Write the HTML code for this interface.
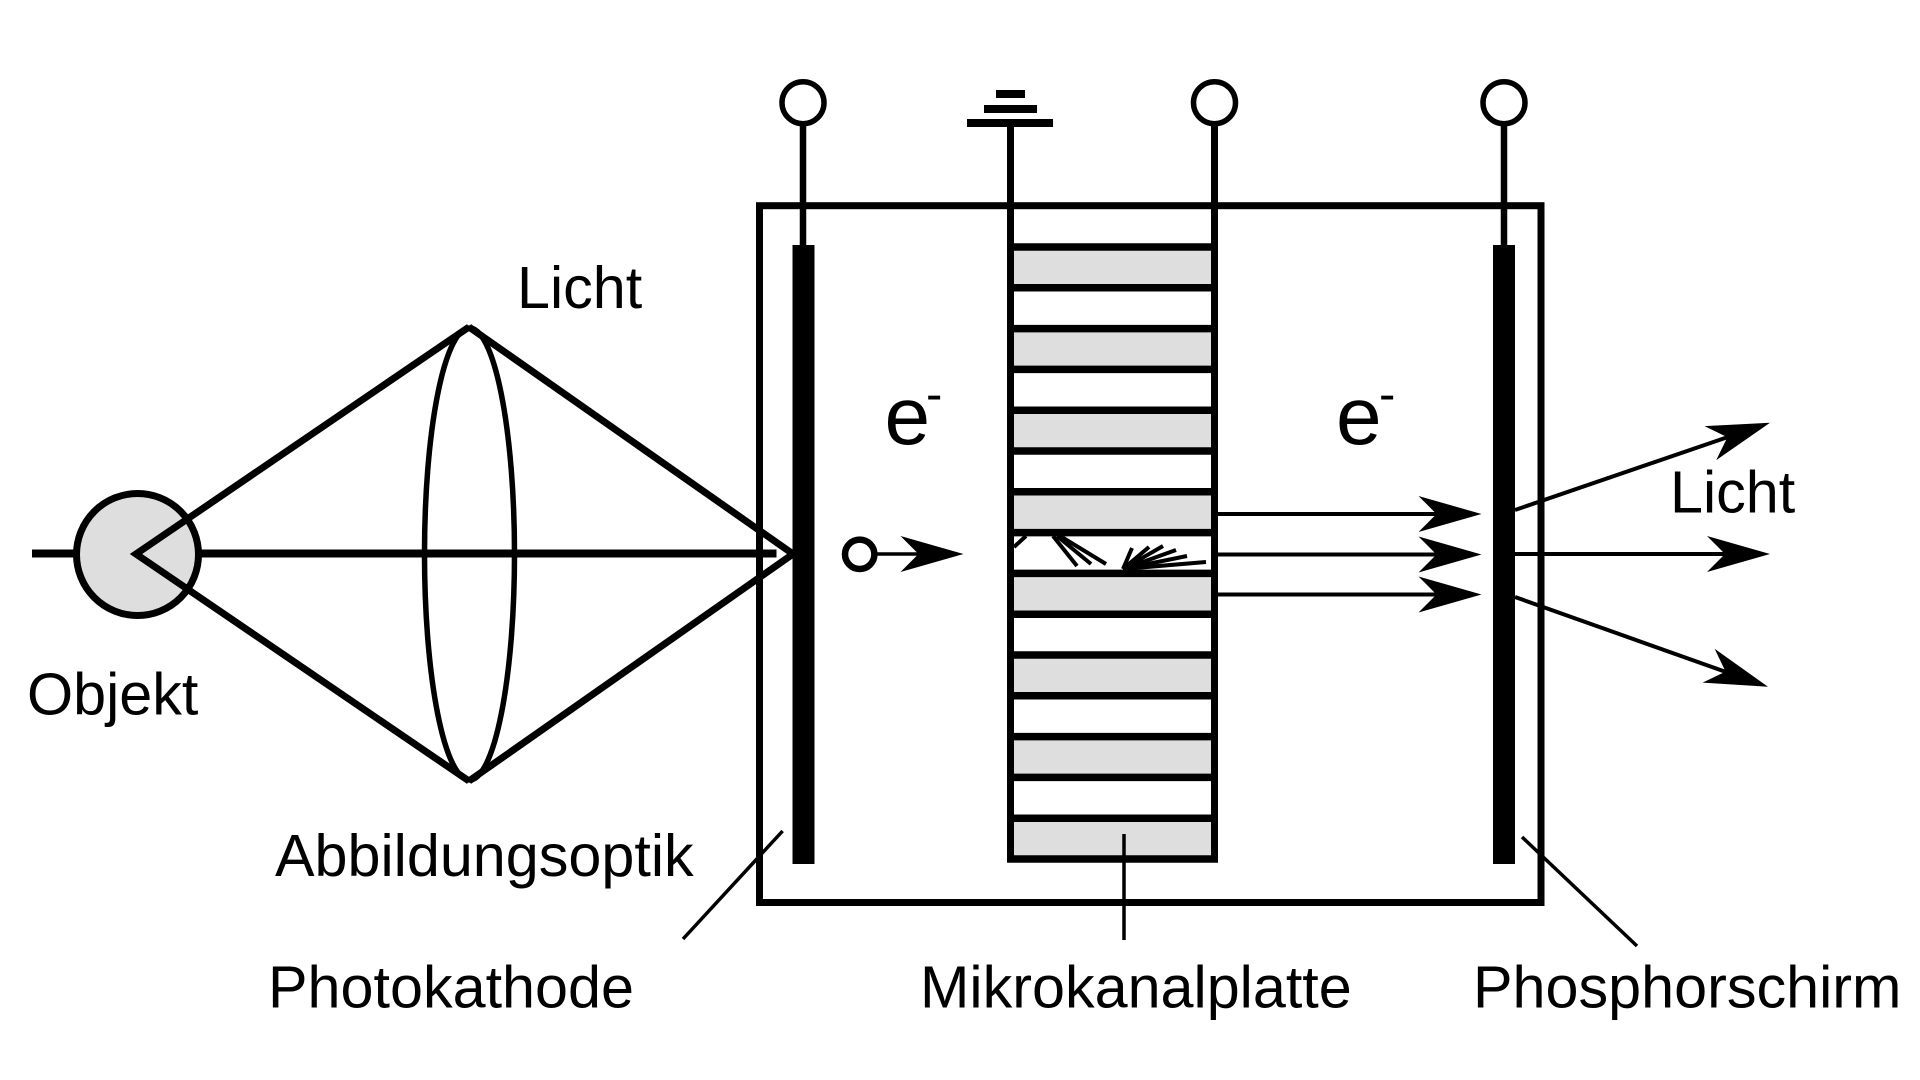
<!DOCTYPE html>
<html>
<head>
<meta charset="utf-8">
<style>
  html, body { margin: 0; padding: 0; background: #fff; }
  svg { display: block; }
  text { font-family: "Liberation Sans", Arial, sans-serif; fill: #000; }
</style>
</head>
<body>
<svg width="1920" height="1080" viewBox="0 0 1920 1080" xmlns="http://www.w3.org/2000/svg">
  <defs>
    <path id="ah" d="M0,0 L-63,-18 L-45,0 L-63,18 Z" fill="#000"/>
  </defs>

  <!-- optical axis -->
  <line x1="32" y1="553.5" x2="776.5" y2="553.5" stroke="#000" stroke-width="8"/>
  <!-- object -->
  <circle cx="137.5" cy="554.5" r="61" fill="#dedede" stroke="#000" stroke-width="7"/>
  <!-- rays -->
  <polyline points="469,327 136,554 469,781" fill="none" stroke="#000" stroke-width="7" stroke-linejoin="miter"/>
  <polyline points="469,327 793,554 469,781" fill="none" stroke="#000" stroke-width="7" stroke-linejoin="miter"/>
  <!-- lens -->
  <ellipse cx="469.5" cy="554" rx="45" ry="226" fill="none" stroke="#000" stroke-width="5.5"/>

  <!-- tube box -->
  <rect x="759.5" y="205.7" width="781.5" height="696.8" fill="none" stroke="#000" stroke-width="7"/>

  <!-- terminal lines -->
  <line x1="803" y1="124" x2="803" y2="246" stroke="#000" stroke-width="6.5"/>
  <line x1="1504" y1="124" x2="1504" y2="246" stroke="#000" stroke-width="6.5"/>

  <!-- photocathode & phosphor screen -->
  <rect x="792.5" y="245" width="22" height="619" fill="#000"/>
  <rect x="1493" y="245" width="22" height="619" fill="#000"/>

  <!-- MCP gray cells -->
  <g fill="#dedede">
    <rect x="1010" y="247" width="205" height="40.8"/>
    <rect x="1010" y="328.6" width="205" height="40.8"/>
    <rect x="1010" y="410.2" width="205" height="40.8"/>
    <rect x="1010" y="491.8" width="205" height="40.8"/>
    <rect x="1010" y="573.4" width="205" height="40.8"/>
    <rect x="1010" y="655" width="205" height="40.8"/>
    <rect x="1010" y="736.6" width="205" height="40.8"/>
    <rect x="1010" y="818.2" width="205" height="40.8"/>
  </g>
  <!-- MCP horizontal bars -->
  <g stroke="#000" stroke-width="7.5">
    <line x1="1007" y1="247" x2="1218" y2="247"/>
    <line x1="1007" y1="287.8" x2="1218" y2="287.8"/>
    <line x1="1007" y1="328.6" x2="1218" y2="328.6"/>
    <line x1="1007" y1="369.4" x2="1218" y2="369.4"/>
    <line x1="1007" y1="410.2" x2="1218" y2="410.2"/>
    <line x1="1007" y1="451" x2="1218" y2="451"/>
    <line x1="1007" y1="491.8" x2="1218" y2="491.8"/>
    <line x1="1007" y1="532.6" x2="1218" y2="532.6"/>
    <line x1="1007" y1="573.4" x2="1218" y2="573.4"/>
    <line x1="1007" y1="614.2" x2="1218" y2="614.2"/>
    <line x1="1007" y1="655" x2="1218" y2="655"/>
    <line x1="1007" y1="695.8" x2="1218" y2="695.8"/>
    <line x1="1007" y1="736.6" x2="1218" y2="736.6"/>
    <line x1="1007" y1="777.4" x2="1218" y2="777.4"/>
    <line x1="1007" y1="818.2" x2="1218" y2="818.2"/>
    <line x1="1007" y1="859" x2="1218" y2="859"/>
  </g>
  <!-- MCP verticals -->
  <line x1="1010.5" y1="126" x2="1010.5" y2="862.5" stroke="#000" stroke-width="7"/>
  <line x1="1214.5" y1="124" x2="1214.5" y2="862.5" stroke="#000" stroke-width="7"/>

  <!-- ground symbol -->
  <rect x="967" y="119" width="86" height="8" fill="#000"/>
  <rect x="984" y="105" width="53" height="8" fill="#000"/>
  <rect x="996" y="90" width="29" height="8" fill="#000"/>

  <!-- terminal circles -->
  <g fill="#fff" stroke="#000" stroke-width="5.5">
    <circle cx="803" cy="102.7" r="21"/>
    <circle cx="1214.5" cy="102.7" r="21"/>
    <circle cx="1504" cy="102.7" r="21"/>
  </g>

  <!-- electron cascade in channel -->
  <g stroke="#000" stroke-width="4" stroke-linecap="butt">
    <line x1="1014" y1="547" x2="1026" y2="536"/>
    <line x1="1053" y1="536" x2="1077" y2="566"/>
    <line x1="1057" y1="536" x2="1091" y2="564"/>
    <line x1="1060" y1="536" x2="1106" y2="564"/>
    <line x1="1123" y1="569" x2="1132" y2="548"/>
    <line x1="1123" y1="569" x2="1149" y2="547"/>
    <line x1="1123" y1="569" x2="1163" y2="546"/>
    <line x1="1123" y1="569" x2="1176" y2="550"/>
    <line x1="1123" y1="569" x2="1187" y2="556"/>
    <line x1="1123" y1="569" x2="1206" y2="562"/>
  </g>

  <!-- photoelectron -->
  <line x1="866" y1="554" x2="920" y2="554" stroke="#000" stroke-width="3.5"/>
  <circle cx="859.7" cy="554.3" r="14.7" fill="#fff" stroke="#000" stroke-width="6.5"/>
  <use href="#ah" transform="translate(963.5,554)"/>

  <!-- electrons out of MCP -->
  <g stroke="#000" stroke-width="4">
    <line x1="1218" y1="514" x2="1440" y2="514"/>
    <line x1="1218" y1="554.5" x2="1440" y2="554.5"/>
    <line x1="1218" y1="594.5" x2="1440" y2="594.5"/>
  </g>
  <use href="#ah" transform="translate(1481.5,514)"/>
  <use href="#ah" transform="translate(1481.5,554.5)"/>
  <use href="#ah" transform="translate(1481.5,594.5)"/>

  <!-- light out -->
  <g stroke="#000" stroke-width="4">
    <line x1="1515" y1="510" x2="1728" y2="437"/>
    <line x1="1515" y1="554" x2="1726" y2="554"/>
    <line x1="1515" y1="597" x2="1726" y2="672"/>
  </g>
  <use href="#ah" transform="translate(1770,422.7) rotate(-18.9)"/>
  <use href="#ah" transform="translate(1770,554)"/>
  <use href="#ah" transform="translate(1768,686.7) rotate(19.5)"/>

  <!-- leader lines -->
  <g stroke="#000" stroke-width="3.5">
    <line x1="683" y1="939" x2="782.6" y2="831"/>
    <line x1="1124" y1="834" x2="1124" y2="940"/>
    <line x1="1522" y1="837" x2="1637" y2="946"/>
  </g>

  <!-- labels -->
  <g font-size="59.3">
    <text x="517" y="308">Licht</text>
    <text x="27" y="714.6">Objekt</text>
    <text x="275" y="876">Abbildungsoptik</text>
    <text x="268" y="1007.6">Photokathode</text>
    <text x="920" y="1007.6">Mikrokanalplatte</text>
    <text x="1473" y="1007.6">Phosphorschirm</text>
    <text x="1670" y="512.7">Licht</text>
  </g>
  <text x="884.5" y="444" font-size="82">e</text>
  <text x="926" y="410.5" font-size="49">-</text>
  <text x="1336" y="444" font-size="82">e</text>
  <text x="1379" y="410.5" font-size="49">-</text>
</svg>
</body>
</html>
